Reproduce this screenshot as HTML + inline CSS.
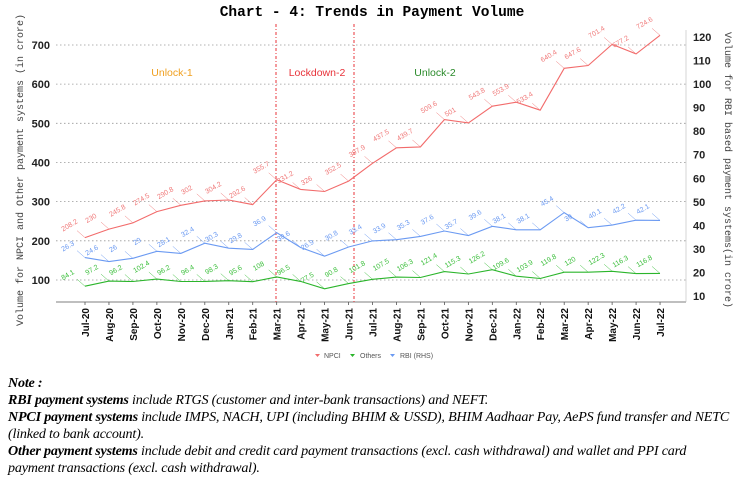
<!DOCTYPE html>
<html><head><meta charset="utf-8"><style>
html,body{margin:0;padding:0;background:#fff;width:746px;height:484px;overflow:hidden}
#note{position:absolute;left:8px;top:375px;font-family:"Liberation Serif",serif;font-style:italic;font-size:14.1px;line-height:16.9px;color:#000;letter-spacing:-0.2px}
#note b{font-weight:bold}
</style></head><body>
<svg id="c" width="746" height="370" style="position:absolute;left:0;top:0" xmlns="http://www.w3.org/2000/svg"></svg>
<div id="note"><b>Note :</b><br><b>RBI payment systems</b> include RTGS (customer and inter-bank transactions) and NEFT.<br><b>NPCI payment systems</b> include IMPS, NACH, UPI (including BHIM &amp; USSD), BHIM Aadhaar Pay, AePS fund transfer and NETC<br>(linked to bank account).<br><b>Other payment systems</b> include debit and credit card payment transactions (excl. cash withdrawal) and wallet and PPI card<br>payment transactions (excl. cash withdrawal).</div>
<script>
var s='';
function X(i){return 85+i*23.96}
function YL(v){return 280-(v-100)*0.3917}
function YR(v){return 296-(v-10)*2.355}
var months=['Jul-20','Aug-20','Sep-20','Oct-20','Nov-20','Dec-20','Jan-21','Feb-21','Mar-21','Apr-21','May-21','Jun-21','Jul-21','Aug-21','Sep-21','Oct-21','Nov-21','Dec-21','Jan-22','Feb-22','Mar-22','Apr-22','May-22','Jun-22','Jul-22'];
var npci=[208.2,230,245.8,274.5,290.8,302,304.2,292.6,355.7,331.2,326,352.5,397.9,437.5,439.7,509.6,501,543.8,553.9,533.4,640.4,647.6,701.4,677.2,724.6];
var oth=[84.1,97.2,96.2,102.4,96.2,96.4,98.3,95.6,108,96.5,77.5,90.8,101.8,107.5,106.3,121.4,115.3,126.2,109.6,103.9,119.8,120,122.3,116.3,116.8];
var rbi=[26.3,24.6,26,29,28.1,32.4,30.3,29.8,36.9,30.6,26.9,30.8,33.4,33.9,35.3,37.6,35.7,39.6,38.1,38.1,45.4,39.0,40.1,42.2,42.1];
s+='<text x="372" y="16" text-anchor="middle" font-family="Liberation Mono,monospace" font-weight="bold" font-size="14.5">Chart - 4: Trends in Payment Volume</text>';
for(var v=100;v<=700;v+=100){var y=YL(v);s+='<line x1="56" x2="686" y1="'+y+'" y2="'+y+'" stroke="#999" stroke-dasharray="1.5,2.5" stroke-width="0.8"/>';s+='<text x="50" y="'+(y+4)+'" text-anchor="end" font-family="Liberation Sans,sans-serif" font-weight="bold" font-size="11" fill="#222">'+v+'</text>';}
for(var r=10;r<=120;r+=10){var y=YR(r);s+='<text x="693" y="'+(y+4)+'" font-family="Liberation Sans,sans-serif" font-weight="bold" font-size="11" fill="#222">'+r+'</text>';}
s+='<line x1="56" x2="686" y1="302" y2="302" stroke="#555" stroke-width="0.8"/>';
s+='<line x1="686" x2="686" y1="30" y2="302" stroke="#bbb" stroke-width="0.6"/>';
for(var i=0;i<25;i++){var x=X(i);s+='<line x1="'+x+'" x2="'+x+'" y1="302" y2="305" stroke="#555" stroke-width="0.8"/>';s+='<text transform="translate('+(x+4)+',308) rotate(-90)" text-anchor="end" font-family="Liberation Sans,sans-serif" font-weight="bold" font-size="10" fill="#111">'+months[i]+'</text>';}
[276,354].forEach(function(x){s+='<line x1="'+x+'" x2="'+x+'" y1="24" y2="302" stroke="#e8333a" stroke-dasharray="3,2,1,2" stroke-width="1"/>';});
s+='<text x="172" y="76" text-anchor="middle" font-family="Liberation Sans,sans-serif" font-size="10.5" fill="#f0a020">Unlock-1</text>';
s+='<text x="317" y="76" text-anchor="middle" font-family="Liberation Sans,sans-serif" font-size="10.5" fill="#e8333a">Lockdown-2</text>';
s+='<text x="435" y="76" text-anchor="middle" font-family="Liberation Sans,sans-serif" font-size="10.5" fill="#2a8a2a">Unlock-2</text>';
s+='<text transform="translate(23,170) rotate(-90)" text-anchor="middle" font-family="Liberation Mono,monospace" font-size="10" fill="#444">Volume for NPCI and Other payment systems (in crore)</text>';
s+='<text transform="translate(725,170) rotate(90)" text-anchor="middle" font-family="Liberation Mono,monospace" font-size="10" fill="#444">Volume for RBI based payment systems(in crore)</text>';
function series(data,yf,col,lab){var p=data.map(function(v,i){return X(i).toFixed(1)+','+yf(v).toFixed(1)}).join(' ');
s+='<polyline points="'+p+'" fill="none" stroke="'+col+'" stroke-width="1.1"/>';
data.forEach(function(v,i){var x=X(i),y=yf(v),lx=x-12,ly=y-8;
s+='<line x1="'+x+'" y1="'+y+'" x2="'+(lx+4)+'" y2="'+(ly+1)+'" stroke="'+lab+'" stroke-width="0.5"/>';
s+='<text transform="translate('+(lx-10)+','+(ly+2)+') rotate(-30)" font-family="Liberation Sans,sans-serif" font-size="7" fill="'+lab+'">'+v+'</text>';});}
series(npci,YL,'#f26b6b','#f07a7a');
series(oth,YL,'#2bb52b','#3cbf3c');
series(rbi,YR,'#6b9af2','#6b9af2');
s+='<g font-family="Liberation Sans,sans-serif" font-size="7" fill="#555">';
s+='<path d="M315,354 l5,0 l-2.5,3z" fill="#f26b6b"/><text x="324" y="358">NPCI</text>';
s+='<path d="M350,354 l5,0 l-2.5,3z" fill="#2bb52b"/><text x="360" y="358">Others</text>';
s+='<path d="M390,354 l5,0 l-2.5,3z" fill="#6b9af2"/><text x="400" y="358">RBI (RHS)</text></g>';
document.getElementById('c').innerHTML=s;
</script>
</body></html>
